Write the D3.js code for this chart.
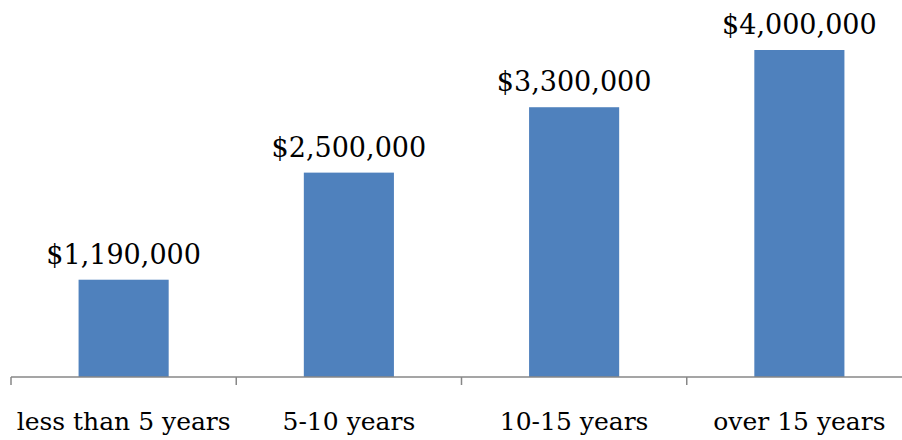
<!DOCTYPE html>
<html>
<head>
<meta charset="utf-8">
<script src="https://cdn.jsdelivr.net/npm/d3@7"></script>
<style>
  body { margin: 0; background: #fff; }
  svg text { font-family: "DejaVu Serif", "Liberation Serif", serif; fill: #000; }
</style>
</head>
<body>
<svg width="902" height="440"></svg>
<script>
// chart data
var categories = ['less than 5 years', '5-10 years', '10-15 years', 'over 15 years'];
var values = [1190000, 2500000, 3300000, 4000000];
var yMax = 4500000;

var svg = d3.select('svg');
var baseline = 377;

// category bands run past the right edge, as in the original
var x = d3.scaleBand()
	.domain(categories)
	.range([11, 912])
	.padding(0);

var y = d3.scaleLinear()
	.domain([0, yMax])
	.range([baseline, baseline - 327 * yMax / 4000000]);

var barW = x.bandwidth() * 0.4;
var fmt = d3.format('$,');

svg.selectAll('rect.bar')
	.data(values)
	.enter().append('rect')
		.attr('class', 'bar')
		.attr('x', function(d, i){ return x(categories[i]) + (x.bandwidth() - barW) / 2; })
		.attr('y', function(d){ return y(d); })
		.attr('width', barW)
		.attr('height', function(d){ return baseline - y(d); })
		.attr('fill', '#4F81BD');

svg.selectAll('text.val')
	.data(values)
	.enter().append('text')
		.attr('class', 'val')
		.attr('x', function(d, i){ return x(categories[i]) + x.bandwidth() / 2; })
		.attr('y', function(d){ return y(d) - 16; })
		.attr('text-anchor', 'middle')
		.attr('font-size', 27)
		.text(function(d){ return fmt(d); });

// x axis: ticks at band edges
var xAxis = d3.axisBottom(x).tickSize(0).tickPadding(0);
var ax = svg.append('g')
	.attr('transform', 'translate(0,' + baseline + ')')
	.call(xAxis);
ax.select('path').remove();
ax.selectAll('text')
	.attr('dy', null)
	.attr('y', 53)
	.attr('font-size', 25)
	.attr('font-family', '"DejaVu Serif", serif');

ax.append('line')
	.attr('x1', 11).attr('x2', 912)
	.attr('stroke', '#878787').attr('stroke-width', 1.5);

ax.selectAll('line.edge')
	.data(categories)
	.enter().append('line')
		.attr('class', 'edge')
		.attr('x1', function(d){ return x(d); })
		.attr('x2', function(d){ return x(d); })
		.attr('y1', 0).attr('y2', 8)
		.attr('stroke', '#878787').attr('stroke-width', 1.5);
</script>
</body>
</html>
